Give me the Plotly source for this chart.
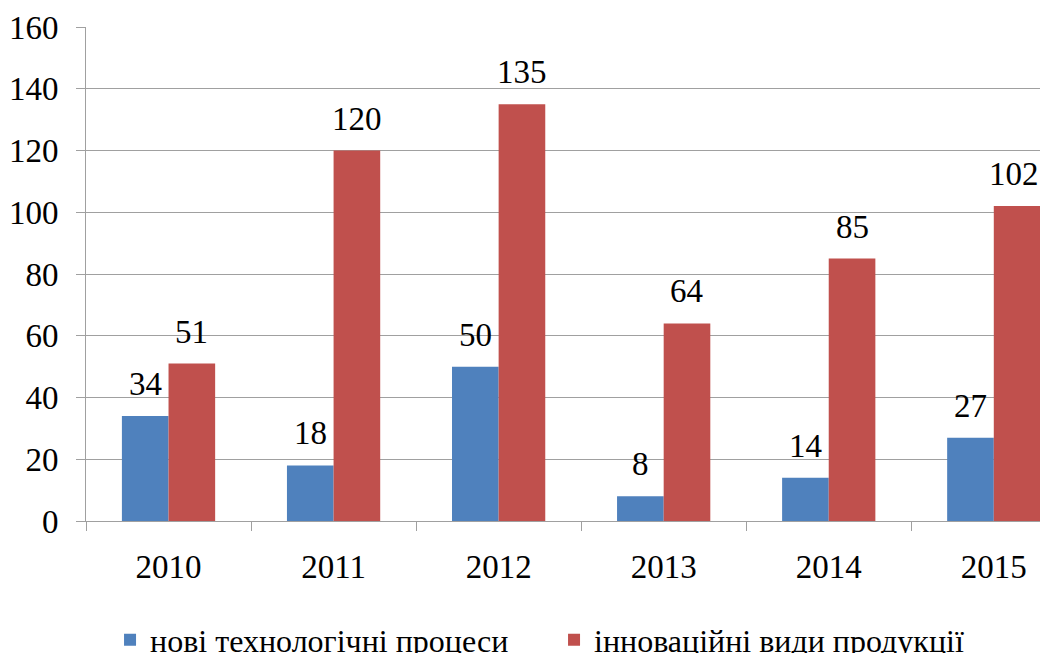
import plotly.graph_objects as go

years = ["2010", "2011", "2012", "2013", "2014", "2015"]
new_processes = [34, 18, 50, 8, 14, 27]
innovative_products = [51, 120, 135, 64, 85, 102]
series_names = ["нові технологічні процеси", "інноваційні види продукції"]
y_ticks = [0, 20, 40, 60, 80, 100, 120, 140, 160]

BLUE = "#4F81BD"
RED = "#C0504D"
GRID = "#a0a0a0"
FONT = "'Times New Roman', 'Liberation Serif', serif"

fig = go.Figure()
fig.add_trace(go.Bar(x=years, y=new_processes, name=series_names[0],
                     marker=dict(color=BLUE, line=dict(width=0))))
fig.add_trace(go.Bar(x=years, y=innovative_products, name=series_names[1],
                     marker=dict(color=RED, line=dict(width=0))))

last = len(years) - 1
for vals, shift in ((new_processes, -23.3), (innovative_products, 23.3)):
    for i, v in enumerate(vals):
        xs = shift
        if i == last and shift > 0:
            xs = shift - 3  # keep the edge label inside the frame, as in the original
        fig.add_annotation(x=i, y=v, text=str(v), showarrow=False,
                           xref="x", yref="y", xanchor="center", yanchor="bottom",
                           xshift=xs, yshift=12,
                           font=dict(family=FONT, size=33, color="black"))

fig.update_layout(
    width=1040, height=653,
    margin=dict(l=86, r=0, t=27, b=132, autoexpand=False),
    paper_bgcolor="white", plot_bgcolor="white",
    barmode="group", bargap=0.435, bargroupgap=0,
    font=dict(family=FONT, size=33, color="black"),
    showlegend=True,
    legend=dict(orientation="h", x=0.0252, xanchor="left", y=-0.241, yanchor="middle",
                entrywidth=399, entrywidthmode="pixels",
                font=dict(family=FONT, size=32, color="black"),
                bgcolor="rgba(0,0,0,0)", borderwidth=0),
    xaxis=dict(type="category", range=[-0.5, 5.28],
               showline=True, linecolor=GRID, linewidth=1,
               ticks="outside", tickson="boundaries", ticklen=9, tickcolor=GRID, tickwidth=1,
               ticklabelstandoff=16,
               showgrid=False, zeroline=False,
               tickfont=dict(family=FONT, size=33, color="black")),
    yaxis=dict(range=[0, 160], tickvals=y_ticks, ticktext=[str(t) for t in y_ticks],
               showline=True, linecolor=GRID, linewidth=1,
               ticks="outside", ticklen=9, tickcolor=GRID, tickwidth=1,
               ticklabelstandoff=11,
               showgrid=True, gridcolor=GRID, gridwidth=1, zeroline=False,
               tickfont=dict(family=FONT, size=33, color="black")),
)

fig.write_html(
    "out.html",
    config={"displayModeBar": False},
    post_script=(
        "document.body.style.margin='0';"
        "document.body.style.overflow='hidden';"
        "document.documentElement.style.overflow='hidden';"
    ),
)
